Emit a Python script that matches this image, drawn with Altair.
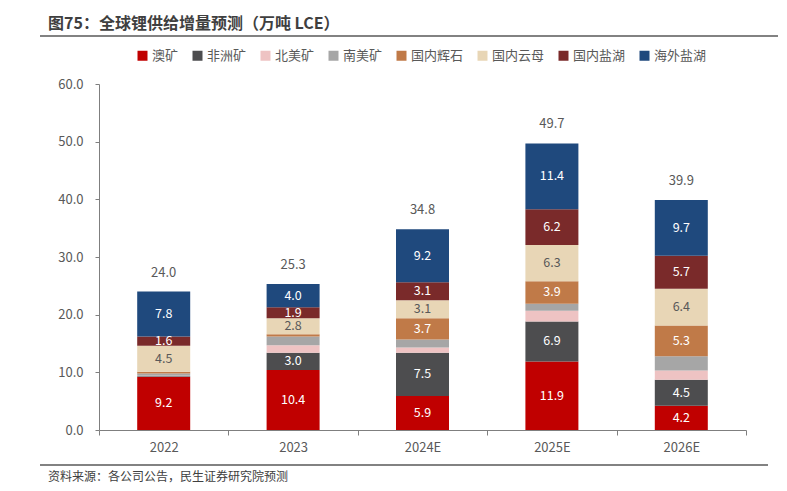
import altair as alt
import pandas as pd

FONT = "Noto Sans CJK SC"

years = ["2022", "2023", "2024E", "2025E", "2026E"]
series = ["澳矿", "非洲矿", "北美矿", "南美矿", "国内辉石", "国内云母", "国内盐湖", "海外盐湖"]
colors = ["#C00000", "#4D4D4F", "#EEC3C3", "#A6A6A6", "#C07A48", "#E8D6B6", "#7A2A2A", "#1F497D"]

aus = [9.2, 10.4, 5.9, 11.9, 4.2]
africa = [0.1, 3.0, 7.5, 6.9, 4.5]
north_am = [0.1, 1.3, 0.9, 1.9, 1.6]
south_am = [0.4, 1.5, 1.4, 1.2, 2.5]
spodumene = [0.3, 0.4, 3.7, 3.9, 5.3]
lepidolite = [4.5, 2.8, 3.1, 6.3, 6.4]
brine_cn = [1.6, 1.9, 3.1, 6.2, 5.7]
brine_ov = [7.8, 4.0, 9.2, 11.4, 9.7]
totals = [24.0, 25.3, 34.8, 49.7, 39.9]

title_text = "图75：全球锂供给增量预测（万吨 LCE）"
source_text = "资料来源：各公司公告，民生证券研究院预测"

all_vals = [aus, africa, north_am, south_am, spodumene, lepidolite, brine_cn, brine_ov]
rows = []
for si, (s, vals) in enumerate(zip(series, all_vals)):
    for y, v in zip(years, vals):
        rows.append({"year": y, "series": s, "idx": si, "value": v})
df = pd.DataFrame(rows)
tot_df = pd.DataFrame({"year": years, "total": totals})

x_axis = alt.Axis(
    labelAngle=0,
    tickBand="extent",
    grid=False,
    tickSize=5,
    labelPadding=6,
    labelFontSize=13,
    labelColor="#595959",
    domainColor="#7F7F7F",
    tickColor="#7F7F7F",
    labelFont=FONT,
)
x_scale = alt.Scale(paddingInner=0, paddingOuter=0)

base = alt.Chart(df)

bars = base.mark_bar(width=53).encode(
    x=alt.X("year:N", sort=years, title=None, scale=x_scale, axis=x_axis),
    y=alt.Y(
        "value:Q",
        stack="zero",
        title=None,
        scale=alt.Scale(domain=[0, 60]),
        axis=alt.Axis(
            values=[0, 10, 20, 30, 40, 50, 60],
            format=".1f",
            grid=False,
            tickSize=4,
            labelPadding=12,
            labelFontSize=13,
            labelColor="#595959",
            domainColor="#7F7F7F",
            tickColor="#7F7F7F",
            labelFont=FONT,
        ),
    ),
    color=alt.Color(
        "series:N",
        sort=series,
        scale=alt.Scale(domain=series, range=colors),
        legend=alt.Legend(
            orient="none",
            legendX=37,
            legendY=-35,
            direction="horizontal",
            title=None,
            symbolType="square",
            symbolSize=100,
            symbolStrokeWidth=0,
            labelFontSize=13,
            labelColor="#595959",
            labelFont=FONT,
            labelOffset=3,
            columnPadding=12,
        ),
    ),
    order=alt.Order("idx:Q", sort="ascending"),
)

seg_labels = (
    base.transform_stack(
        stack="value",
        groupby=["year"],
        sort=[alt.SortField("idx", "ascending")],
        as_=["y0", "y1"],
    )
    .transform_calculate(
        mid="(datum.y0 + datum.y1) / 2",
        lc="datum.series == '国内云母' ? '#595959' : '#FFFFFF'",
    )
    .transform_filter(
        "datum.series != '北美矿' && datum.series != '南美矿' && datum.value >= 1.5"
    )
    .mark_text(fontSize=12.5, font=FONT, baseline="middle")
    .encode(
        x=alt.X("year:N", sort=years),
        y=alt.Y("mid:Q"),
        text=alt.Text("value:Q", format=".1f"),
        color=alt.Color("lc:N", scale=None, legend=None),
    )
)

total_labels = (
    alt.Chart(tot_df)
    .mark_text(fontSize=13, font=FONT, baseline="middle", dy=-19, color="#595959")
    .encode(
        x=alt.X("year:N", sort=years),
        y=alt.Y("total:Q"),
        text=alt.Text("total:Q", format=".1f"),
    )
)

one = pd.DataFrame({"t": [title_text], "s": [source_text]})

title = (
    alt.Chart(one)
    .mark_text(fontSize=16, font=FONT, fontWeight="bold", align="left", baseline="middle", color="#3F3F3F")
    .encode(x=alt.value(-51), y=alt.value(-60), text="t:N")
)
source = (
    alt.Chart(one)
    .mark_text(fontSize=12, font=FONT, align="left", baseline="middle", color="#404040")
    .encode(x=alt.value(-51), y=alt.value(393), text="s:N")
)
top_line = (
    alt.Chart(one)
    .mark_rule(color="#595959", strokeWidth=1.5)
    .encode(x=alt.value(-59), x2=alt.value(690), y=alt.value(-48), y2=alt.value(-48))
)
bottom_line = (
    alt.Chart(one)
    .mark_rule(color="#595959", strokeWidth=1.5)
    .encode(x=alt.value(-59), x2=alt.value(669), y=alt.value(381), y2=alt.value(381))
)

chart = (
    alt.layer(bars, seg_labels, total_labels, title, source, top_line, bottom_line)
    .properties(
        width=647,
        height=346,
        autosize=alt.AutoSizeParams(type="none"),
        padding={"left": 91, "top": 76, "right": 32, "bottom": 53},
    )
    .configure_view(stroke=None)
    .configure_axis(grid=False)
)

chart.save("out.html", embed_options={"renderer": "svg", "actions": False})
